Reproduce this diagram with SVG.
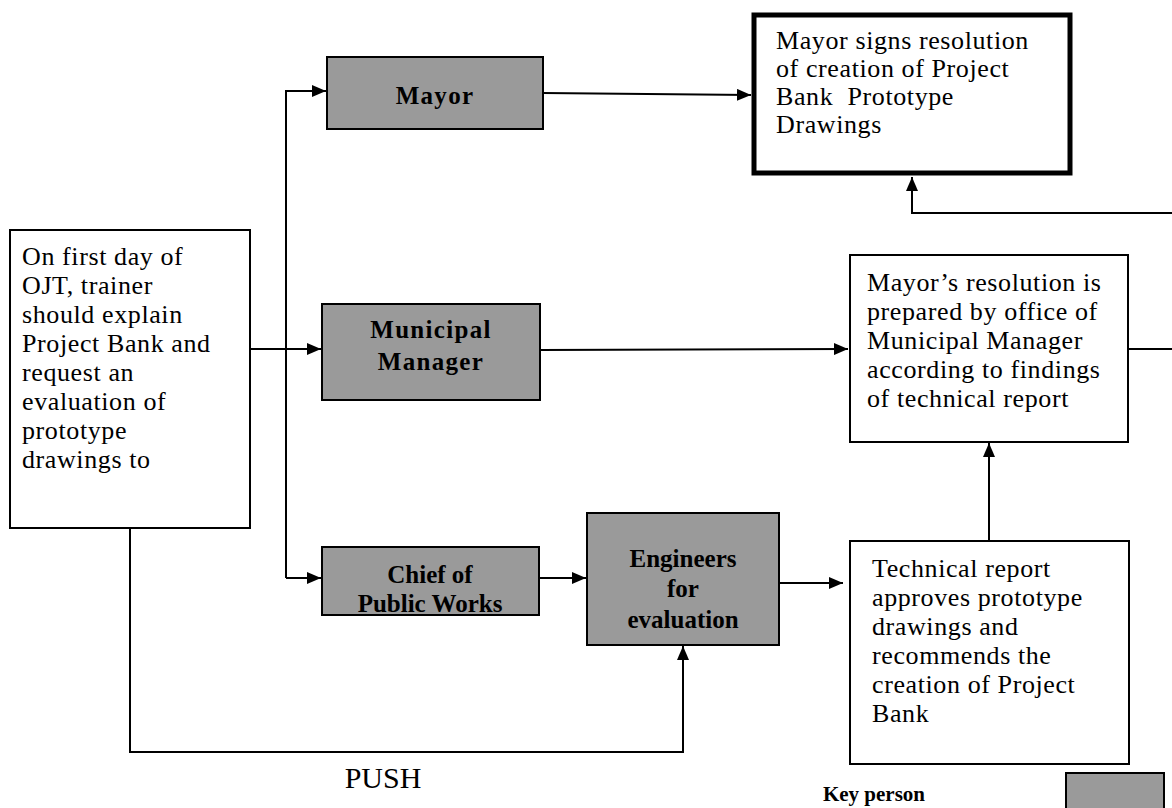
<svg xmlns="http://www.w3.org/2000/svg" width="1172" height="808" viewBox="0 0 1172 808">
<style>
.bg{fill:#ffffff}
.box{fill:#ffffff;stroke:#000;stroke-width:2}
.key{fill:#9a9a9a;stroke:#000;stroke-width:2}
.thick{fill:#ffffff;stroke:#000;stroke-width:5}
.t{font-family:"Liberation Serif","Times New Roman",serif;font-size:26px;letter-spacing:0.6px;fill:#000}
.b{font-family:"Liberation Serif","Times New Roman",serif;font-size:25px;font-weight:bold;letter-spacing:1.3px;fill:#000;text-anchor:middle}
.bc{font-family:"Liberation Serif","Times New Roman",serif;font-size:25px;font-weight:bold;fill:#000;text-anchor:middle}
.c{fill:none;stroke:#000;stroke-width:2}
</style>
<defs>
<marker id="ah" markerWidth="14" markerHeight="12" refX="14" refY="6" orient="auto" markerUnits="userSpaceOnUse">
<path d="M0,0 L14,6 L0,12 Z" fill="#000"/>
</marker>
</defs>
<rect class="bg" x="0" y="0" width="1172" height="808"/>
<g id="connectors">
<path class="c" d="M247,349 L286,349" stroke-width="3"/>
<path class="c" d="M286,349 L321,349" marker-end="url(#ah)"/>
<path class="c" d="M286,578 L286,91 L326,91" marker-end="url(#ah)"/>
<path class="c" d="M286,578 L321,578" marker-end="url(#ah)"/>
<path class="c" d="M543,93 L751,95" marker-end="url(#ah)"/>
<path class="c" d="M540,350 L848,349" marker-end="url(#ah)"/>
<path class="c" d="M539,578 L586,578" marker-end="url(#ah)"/>
<path class="c" d="M779,583 L843,583" marker-end="url(#ah)"/>
<path class="c" d="M989,541 L989,443" marker-end="url(#ah)"/>
<path class="c" d="M1128,349 L1172,349"/>
<path class="c" d="M1172,213 L912,213 L912,177" marker-end="url(#ah)"/>
<path class="c" d="M130,528 L130,752 L683,752 L683,646" marker-end="url(#ah)"/>
</g>
<g id="n-start">
<rect class="box" x="10" y="230" width="240" height="298"/>
<text class="t" x="22" y="265">On first day of</text>
<text class="t" x="22" y="294">OJT, trainer</text>
<text class="t" x="22" y="323">should explain</text>
<text class="t" x="22" y="352">Project Bank and</text>
<text class="t" x="22" y="381">request an</text>
<text class="t" x="22" y="410">evaluation of</text>
<text class="t" x="22" y="439">prototype</text>
<text class="t" x="22" y="468">drawings to</text>
</g>
<g id="n-mayor">
<rect class="key" x="327" y="57" width="216" height="72"/>
<text class="b" x="435" y="104">Mayor</text>
</g>
<g id="n-manager">
<rect class="key" x="322" y="304" width="218" height="96"/>
<text class="b" x="431" y="338">Municipal</text>
<text class="b" x="431" y="370">Manager</text>
</g>
<g id="n-chief">
<rect class="key" x="322" y="547" width="217" height="68"/>
<text class="bc" x="430" y="583">Chief of</text>
<text class="bc" x="430" y="612">Public Works</text>
</g>
<g id="n-engineers">
<rect class="key" x="587" y="513" width="192" height="132"/>
<text class="bc" x="683" y="567">Engineers</text>
<text class="bc" x="683" y="597">for</text>
<text class="bc" x="683" y="628">evaluation</text>
</g>
<g id="n-signs">
<rect class="thick" x="754" y="15" width="316" height="158"/>
<text class="t" x="776" y="49">Mayor signs resolution</text>
<text class="t" x="776" y="77">of creation of Project</text>
<text class="t" x="776" y="105" xml:space="preserve">Bank  Prototype</text>
<text class="t" x="776" y="133">Drawings</text>
</g>
<g id="n-prepared">
<rect class="box" x="850" y="255" width="278" height="187"/>
<text class="t" x="867" y="291">Mayor’s resolution is</text>
<text class="t" x="867" y="320">prepared by office of</text>
<text class="t" x="867" y="349">Municipal Manager</text>
<text class="t" x="867" y="378">according to findings</text>
<text class="t" x="867" y="407">of technical report</text>
</g>
<g id="n-report">
<rect class="box" x="850" y="541" width="279" height="223"/>
<text class="t" x="872" y="577">Technical report</text>
<text class="t" x="872" y="606">approves prototype</text>
<text class="t" x="872" y="635">drawings and</text>
<text class="t" x="872" y="664">recommends the</text>
<text class="t" x="872" y="693">creation of Project</text>
<text class="t" x="872" y="722">Bank</text>
</g>
<g id="legend">
<text class="bc" x="874" y="801" style="font-size:21px">Key person</text>
<rect class="key" x="1066" y="773" width="98" height="40"/>
</g>
<text x="383" y="788" style="font-family:'Liberation Serif','Times New Roman',serif;font-size:30px;text-anchor:middle">PUSH</text>
</svg>
